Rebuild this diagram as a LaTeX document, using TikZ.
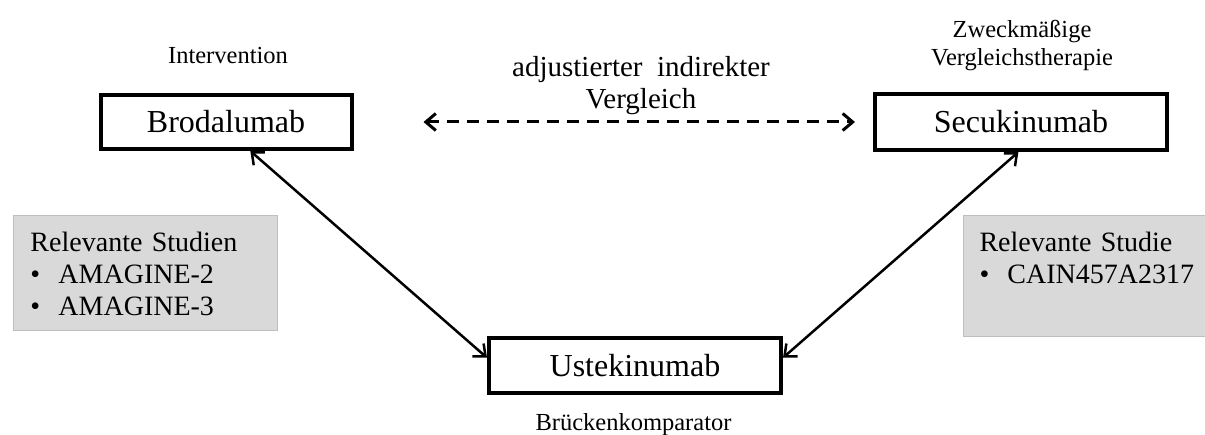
\documentclass[tikz,border=0pt]{standalone}
\usepackage{fontspec}
\setmainfont{Liberation Serif}
\usepackage{tikz}
\usetikzlibrary{positioning}
\usetikzlibrary{arrows.meta}
\definecolor{boxgray}{RGB}{217,217,217}
\definecolor{edgegray}{RGB}{191,191,191}

\begin{document}
\begin{tikzpicture}[
            x = 1pt, y = -1pt, % pixel grid
            > = {Straight Barb[length=10pt,width=17pt]}, % arrow head style
            semithick % line style
        ]

        \tikzstyle{drug}=[
            draw,
            line width = 4pt,
            inner sep = 0pt,
            font = \fontsize{32}{38}\selectfont
        ]
        \tikzstyle{lbl}=[inner sep=0pt, align=center, font=\fontsize{24.5}{28}\selectfont]
        \tikzstyle{study}=[
            fill = boxgray, draw = edgegray, line width = 1pt,
            align = left, anchor = north west,
            inner xsep = 17pt, inner ysep = 16pt, text height = 20pt,
            font = \fontsize{28}{32}\selectfont
        ]
        \tikzstyle{link}=[<->, line width=2.5pt]
        \tikzstyle{cmp}=[<->, dashed, dash pattern=on 12pt off 8pt, line width=3pt]

        \useasboundingbox (0,0) rectangle (1205,435);

        % drugs
        \node[drug, minimum width=251pt, minimum height=54pt] (brod) at (226,122) {Brodalumab};
        \node[drug, minimum width=292pt, minimum height=56pt] (secu) at (1021,122) {Secukinumab};
        \node[drug, minimum width=292pt, minimum height=55pt] (uste) at (635,365.5) {Ustekinumab};

        % roles
        \node[lbl] (intv) [above=29pt of brod, xshift=2pt] {Intervention};
        \node[lbl] (zvt) [above=20.5pt of secu, xshift=1pt] {Zweckmäßige\\Vergleichstherapie};
        \node[lbl] (bridge) [below=18.5pt of uste, xshift=-1.5pt] {Brückenkomparator};
        \node[lbl, font=\fontsize{29}{32}\selectfont] (aic) at (641,85.3) {adjustierter\ \ indirekter\\Vergleich};

        % studies
        \node[study, text width=230pt, text depth=63pt] (relL) at (13,215)
            {Relevante Studien\\\makebox[28pt][l]{\textbullet}AMAGINE-2\\\makebox[28pt][l]{\textbullet}AMAGINE-3};
        \node[study, text width=212pt, text depth=69pt, inner xsep=16pt] (relR) at (963,215)
            {Relevante Studie\\\makebox[28pt][l]{\textbullet}CAIN457A2317};

        \draw[link] (brod.-50) -- (uste.177);
        \draw[link] (secu.-95) -- (uste.3);
        \draw[cmp] ([xshift=70pt]brod.east) -- ([xshift=-18pt]secu.west);

\end{tikzpicture}
\end{document}
